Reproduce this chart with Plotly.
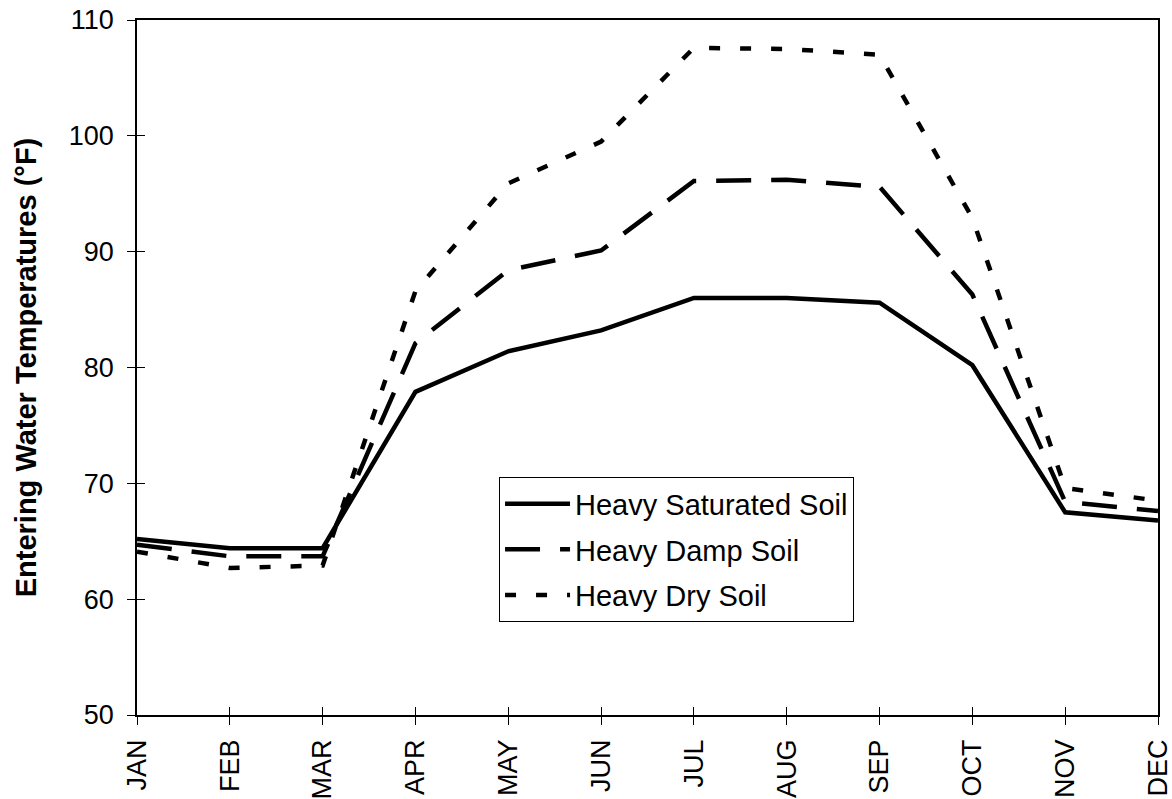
import plotly.graph_objects as go

months = ["JAN", "FEB", "MAR", "APR", "MAY", "JUN",
          "JUL", "AUG", "SEP", "OCT", "NOV", "DEC"]

saturated = [65.2, 64.4, 64.4, 77.9, 81.4, 83.2, 86.0, 86.0, 85.6, 80.2, 67.5, 66.8]
damp = [64.7, 63.7, 63.7, 82.1, 88.4, 90.1, 96.1, 96.2, 95.6, 86.3, 68.4, 67.6]
dry = [64.1, 62.7, 62.9, 86.6, 95.9, 99.5, 107.6, 107.5, 107.0, 92.9, 69.6, 68.5]

series_names = ["Heavy Saturated Soil", "Heavy Damp Soil", "Heavy Dry Soil"]
x_idx = list(range(len(months)))

FONT = "Liberation Sans, Arial, sans-serif"

fig = go.Figure()
styles = [("solid", saturated), ("35px,20px", damp), ("11px,20px", dry)]
for i, (name, (dash, vals)) in enumerate(zip(series_names, styles)):
    fig.add_trace(go.Scatter(
        x=x_idx, y=vals, mode="lines", name=name,
        legendgroup=f"g{i}",
        line=dict(color="black", width=4.5, dash=dash),
    ))

# Invisible trace on secondary axes so the inward tick marks are drawn
fig.add_trace(go.Scatter(x=[0], y=[50], xaxis="x2", yaxis="y2",
                         mode="markers", marker=dict(opacity=0),
                         showlegend=False, hoverinfo="skip"))

fig.update_layout(
    width=1172, height=799,
    margin=dict(l=137, r=14, t=20, b=84),
    paper_bgcolor="white", plot_bgcolor="white",
    font=dict(family=FONT, color="black", size=27),
    xaxis=dict(
        range=[0, 11], tickvals=x_idx, ticktext=months, tickangle=-90,
        ticks="outside", ticklen=8, tickwidth=1, tickcolor="black",
        showline=True, linecolor="black", linewidth=1.5, mirror=True,
        showgrid=False, zeroline=False, ticklabelstandoff=4,
        ticklabeloverflow="allow",
        tickfont=dict(size=27), automargin=False,
    ),
    yaxis=dict(
        range=[50, 110], dtick=10,
        ticks="outside", ticklen=8, tickwidth=1, tickcolor="black",
        showline=True, linecolor="black", linewidth=1.5, mirror=True,
        showgrid=False, zeroline=False, ticklabelstandoff=8,
        ticklabeloverflow="allow",
        tickfont=dict(size=27), automargin=False,
        title=dict(text="<b>Entering Water Temperatures (°F)</b>",
                   font=dict(size=29), standoff=24),
    ),
    xaxis2=dict(overlaying="x", matches="x", side="bottom",
                tickvals=x_idx, ticks="inside", ticklen=8, tickcolor="black",
                showticklabels=False, showgrid=False, zeroline=False,
                showline=False),
    yaxis2=dict(overlaying="y", matches="y", side="left", dtick=10,
                ticks="inside", ticklen=8, tickcolor="black",
                showticklabels=False, showgrid=False, zeroline=False,
                showline=False),
    legend=dict(
        x=0.3546, y=0.342, xanchor="left", yanchor="top",
        bgcolor="white", bordercolor="black", borderwidth=1,
        font=dict(size=29), itemwidth=65, tracegroupgap=5,
    ),
    showlegend=True,
)

fig.write_html("out.html")
